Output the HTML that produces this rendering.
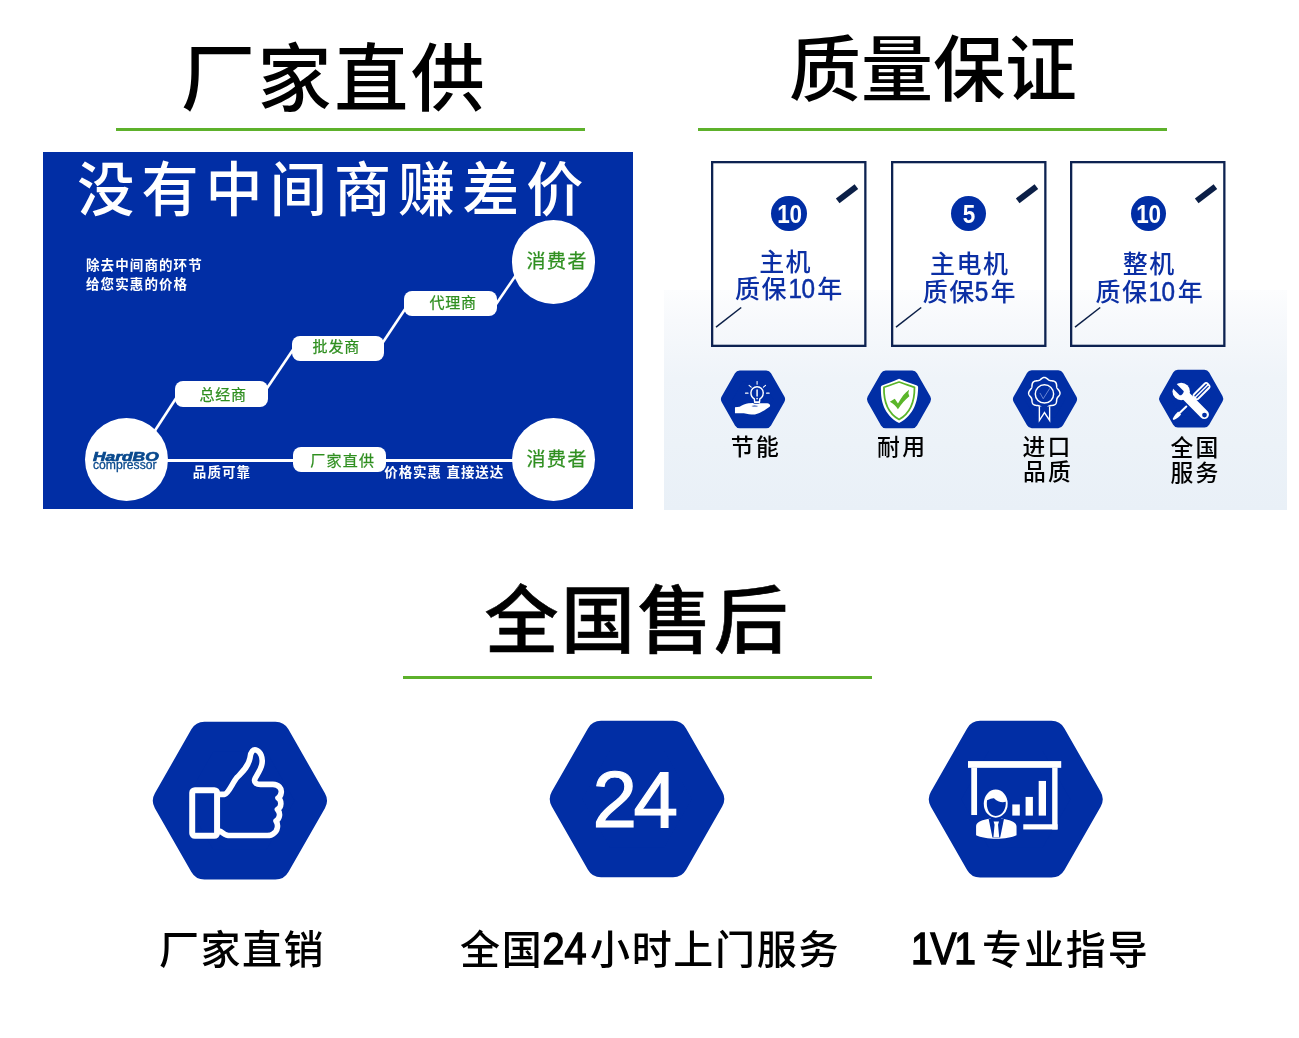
<!DOCTYPE html>
<html lang="zh-CN">
<head>
<meta charset="utf-8">
<title>厂家直供 · 质量保证 · 全国售后</title>
<style>
  html, body { margin: 0; padding: 0; background: #fff; }
  body { width: 1299px; height: 1038px; overflow: hidden;
         font-family: "Liberation Sans", "Noto Sans CJK SC", sans-serif; color: #000; }
  #page { position: relative; width: 1299px; height: 1038px; background: #fff; overflow: hidden; }
  .abs { position: absolute; white-space: nowrap; margin: 0; padding: 0; }
  .ga { will-change: transform; }
  svg { position: absolute; left: 0; top: 0; overflow: visible; }
  h2.title { position: absolute; margin: 0; white-space: nowrap; font-weight: 500;
             font-family: "Liberation Sans", "Noto Sans CJK SC", sans-serif;
             line-height: 1; transform-origin: 0 0; }
  .rule { position: absolute; height: 3px; background: #5db12b; }

  /* ---- section 1 : blue diagram ---- */
  #direct { position: absolute; left: 43px; top: 152px; width: 590px; height: 357px; background: #012ea5; overflow: hidden; }
  #direct .big { font-family: "Liberation Sans", "Noto Sans CJK SC", sans-serif; font-weight: 500; color: #fff; line-height: 1; }
  #direct .note { font-family: "Liberation Sans", "Noto Sans CJK SC", sans-serif; font-weight: 700; color: #fff; line-height: 1; }
  #direct .pill { position: absolute; background: #fff; border-radius: 8px; color: #2f8f20; text-align: center; -webkit-text-stroke: 0.25px #2f8f20;
                  font-family: "Liberation Sans", "Noto Sans CJK SC", sans-serif; font-weight: 400; white-space: nowrap; }
  #direct .dot { position: absolute; background: #fff; border-radius: 50%; color: #2f8f20; text-align: center; -webkit-text-stroke: 0.25px #2f8f20;
                 font-family: "Liberation Sans", "Noto Sans CJK SC", sans-serif; font-weight: 400; white-space: nowrap; }

  /* ---- section 2 : quality ---- */
  #panel { position: absolute; left: 664px; top: 290px; width: 623px; height: 219.6px;
           background: linear-gradient(to bottom, #fcfdfe 0%, #f7f9fc 14%, #eff4f9 40%, #e9f0f7 100%); }
  .card { position: absolute; top: 161px; width: 155.5px; height: 186px; }
  .card .num { position: absolute; left: 60.5px; top: 34.7px; width: 35.4px; height: 35.4px; border-radius: 50%;
               background: #012ea5; color: #fff; font-weight: 700; text-align: center;
               font-family: "Liberation Sans", sans-serif; font-size: 25px; line-height: 36.8px; }
  .card .num span { display: inline-block; transform: scaleX(0.9); letter-spacing: -0.5px; }
  .card .txt { position: absolute; left: 0; width: 155.4px; text-align: center; color: #0b2fa4;
               font-family: "Liberation Sans", "Noto Sans CJK SC", sans-serif; font-weight: 500; white-space: nowrap;
               font-size: 25px; line-height: 30px; letter-spacing: 1.4px; }
  .card .txt .d { font-weight: 400; font-size: 27px; line-height: 0; letter-spacing: -0.6px; display: inline-block; transform: scaleX(0.9); margin: 0 1.7px 0 -1.1px; -webkit-text-stroke: 0.5px #0b2fa4; }
  .feat { position: absolute; text-align: center; color: #000; white-space: nowrap;
          font-family: "Liberation Sans", "Noto Sans CJK SC", sans-serif; font-weight: 500; }

  /* ---- section 3 : service ---- */
  .svc { position: absolute; color: #000; white-space: nowrap; line-height: 48px; height: 48px;
         font-family: "Liberation Sans", "Noto Sans CJK SC", sans-serif; font-weight: 500; font-size: 40px; letter-spacing: 1.5px; }
  .svc .lat { font-family: "Liberation Sans", sans-serif; font-weight: 400; font-size: 44px; display: inline-block; -webkit-text-stroke: 1.5px #000;
              transform-origin: 50% 50%; letter-spacing: 0; line-height: 1; vertical-align: baseline; }
</style>
</head>
<body>
<div id="page" class="ga">

  <!-- ================= section 1 ================= -->
  <h2 class="title" id="t1" style="left:181px; top:43px; font-size:74px; letter-spacing:2.6px;">厂家直供</h2>
  <div class="rule" style="left:116px; top:128px; width:469px;"></div>

  <div id="direct">

    <svg width="590" height="357" viewBox="43 152 590 357">
      <g stroke="#fff" stroke-width="2.6" fill="none" stroke-linecap="butt">
        <line x1="150.8" y1="437" x2="178.8" y2="394"/>
        <line x1="265.8" y1="390" x2="294.8" y2="347"/>
        <line x1="381.8" y1="344" x2="407.8" y2="305"/>
        <line x1="494.8" y1="306" x2="520.8" y2="268"/>
      </g>
      <line x1="160" y1="460.4" x2="520" y2="460.4" stroke="#fff" stroke-width="3"/>
    </svg>
    <div class="abs big" id="bigtitle" style="left:34.3px; top:8.5px; font-size:57px; letter-spacing:7.15px; transform:scaleY(1.035); transform-origin:0 0;">没有中间商赚差价</div>
    <div class="abs note" id="note1" style="left:43px; top:106.5px; font-size:13.5px; letter-spacing:1.1px;">除去中间商的环节</div>
    <div class="abs note" id="note2" style="left:43px; top:125.7px; font-size:13.5px; letter-spacing:1.1px;">给您实惠的价格</div>

    <div class="pill" id="p1" style="left:132.4px; top:229.4px; width:92.8px; height:25.2px; line-height:28.6px; font-size:15px; letter-spacing:0.8px; text-indent:2.6px;">总经商</div>
    <div class="pill" id="p2" style="left:248.6px; top:184px; width:92.8px; height:25.2px; line-height:22.6px; font-size:15px; letter-spacing:0.8px; text-indent:-3.4px;">批发商</div>
    <div class="pill" id="p3" style="left:361px; top:139px; width:93px; height:25.4px; line-height:24px; font-size:15px; letter-spacing:0.8px; text-indent:5.2px;">代理商</div>
    <div class="pill" id="p4" style="left:250px; top:294.7px; width:93.2px; height:25.2px; line-height:27.6px; font-size:15px; letter-spacing:1.2px; text-indent:6.2px;">厂家直供</div>

    <div class="dot" id="c1" style="left:469px; top:68.3px; width:83.4px; height:83.4px; line-height:83px; font-size:19px; letter-spacing:1.4px; text-indent:7px;">消费者</div>
    <div class="dot" id="c2" style="left:469px; top:265.7px; width:83.4px; height:83.4px; line-height:84px; font-size:19px; letter-spacing:1.4px; text-indent:7px;">消费者</div>
    <div class="dot" id="logo" style="left:41.6px; top:265.7px; width:83.4px; height:83.4px;">
      <span class="abs" id="lg1" style="left:8.6px; top:33px; font-family:'Liberation Sans',sans-serif; font-weight:700; font-style:italic; font-size:12.6px; line-height:1; color:#0a4a8e; -webkit-text-stroke:0.65px #0a4a8e; transform:scaleX(1.38); transform-origin:0 0; letter-spacing:0;">HardBO</span>
      <span class="abs" id="lg2" style="left:8.3px; top:41px; font-family:'Liberation Sans',sans-serif; font-weight:400; font-size:12px; line-height:1; color:#0a4a8e; -webkit-text-stroke:0.3px #0a4a8e; transform:scaleX(1.015); transform-origin:0 0;">compressor</span>
    </div>

    <div class="abs note" id="lab1" style="left:149.8px; top:314.3px; font-size:13.5px; letter-spacing:1.1px;">品质可靠</div>
    <div class="abs note" id="lab2" style="left:341.3px; top:314.3px; font-size:13.5px; letter-spacing:0.9px;">价格实惠 直接送达</div>

  </div>

  <!-- ================= section 2 ================= -->
  <h2 class="title" id="t2" style="left:789px; top:34px; font-size:72px;">质量保证</h2>
  <div class="rule" style="left:698px; top:128px; width:469px;"></div>

  <div id="panel"></div>
  <div class="card" style="left:710.9px;">
    <svg width="156" height="186" viewBox="0 0 156 186">
      <rect x="1.15" y="1.15" width="153.2" height="183.7" fill="none" stroke="#0d2251" stroke-width="2.3"/>
      <line x1="126.7" y1="39.8" x2="145.4" y2="25.6" stroke="#0b1f47" stroke-width="6"/>
      <line x1="5" y1="166.2" x2="30.2" y2="146.5" stroke="#0b1f47" stroke-width="1.5"/>
    </svg>
    <div class="num"><span>10</span></div>
    <div class="txt" style="top:85.9px; margin-left:-3.0px;">主机</div>
    <div class="txt" style="top:112.8px; margin-left:0.8px;">质保<span class="d">10</span>年</div>
  </div>
  <div class="card" style="left:890.6px;">
    <svg width="156" height="186" viewBox="0 0 156 186">
      <rect x="1.15" y="1.15" width="153.2" height="183.7" fill="none" stroke="#0d2251" stroke-width="2.3"/>
      <line x1="126.7" y1="39.8" x2="145.4" y2="25.6" stroke="#0b1f47" stroke-width="6"/>
      <line x1="5" y1="166.2" x2="30.2" y2="146.5" stroke="#0b1f47" stroke-width="1.5"/>
    </svg>
    <div class="num"><span>5</span></div>
    <div class="txt" style="top:88.2px; margin-left:1.4px;">主电机</div>
    <div class="txt" style="top:115.5px; margin-left:1.6px;">质保<span class="d">5</span>年</div>
  </div>
  <div class="card" style="left:1070.4px;">
    <svg width="156" height="186" viewBox="0 0 156 186">
      <rect x="1.15" y="1.15" width="153.2" height="183.7" fill="none" stroke="#0d2251" stroke-width="2.3"/>
      <line x1="126.7" y1="39.8" x2="145.4" y2="25.6" stroke="#0b1f47" stroke-width="6"/>
      <line x1="5" y1="166.2" x2="30.2" y2="146.5" stroke="#0b1f47" stroke-width="1.5"/>
    </svg>
    <div class="num"><span>10</span></div>
    <div class="txt" style="top:88.4px; margin-left:1.2px;">整机</div>
    <div class="txt" style="top:115.5px; margin-left:1.8px;">质保<span class="d">10</span>年</div>
  </div>
  <svg style="left:713px; top:360px;" width="80" height="80" viewBox="0 0 1038 1038">
      <path d="M174.0,510.0 L347.0,206.0 L691.0,206.0 L864.0,510.0 L691.0,814.0 L347.0,814.0 Z" fill="#012ea5" stroke="#012ea5" stroke-width="142" stroke-linejoin="round"/>
      <path d="M285,614 L345,606 C385,580 420,566 460,561 L520,558 C535,574 585,577 602,560 L705,560 C730,560 748,580 738,602 C690,640 610,690 545,706 C500,708 450,700 400,690 L285,690 Z" fill="#fff"/>
      <path d="M498,596 C530,584 560,589 588,596 C560,607 525,607 498,596 Z" fill="#012ea5"/>
      <path d="M541,548 L536,505 C505,485 492,455 492,425 C492,380 528,347 572,347 C616,347 652,380 652,425 C652,455 639,485 608,505 L603,548 Z" fill="#012ea5" stroke="#fff" stroke-width="19" stroke-linejoin="round"/>
      <rect x="540" y="538" width="64" height="24" rx="5" fill="#fff"/>
      <line x1="572" y1="388" x2="572" y2="466" stroke="#fff" stroke-width="19" stroke-linecap="round"/>
      <circle cx="572" cy="500" r="11" fill="#fff"/>
      <g stroke="#fff" stroke-width="14" stroke-linecap="round">
        <line x1="572" y1="280" x2="572" y2="314"/>
        <line x1="468" y1="328" x2="496" y2="353"/>
        <line x1="682" y1="328" x2="654" y2="353"/>
        <line x1="421" y1="430" x2="455" y2="430"/>
        <line x1="695" y1="430" x2="729" y2="430"/>
      </g>
  </svg>
  <svg style="left:859.3px; top:360px;" width="80" height="80" viewBox="0 0 1038 1038">
      <path d="M174.0,510.0 L347.0,206.0 L691.0,206.0 L864.0,510.0 L691.0,814.0 L347.0,814.0 Z" fill="#012ea5" stroke="#012ea5" stroke-width="142" stroke-linejoin="round"/>
      <path d="M520,243 C600,278 685,305 752,330 C765,336 768,348 767,365 C762,520 725,705 520,818 C315,705 282,520 284,365 C283,348 286,336 298,330 C365,305 440,278 520,243 Z" fill="#fff"/>
      <path d="M520,286 C590,312 660,334 720,354 C722,500 688,678 520,773 C352,678 320,500 324,354 C384,334 450,312 520,286 Z" fill="none" stroke="#5ab52a" stroke-width="23" stroke-linejoin="round"/>
      <path d="M400,541 L464,504 L506,566 C548,482 598,422 650,385 L640,432 L653,470 C600,512 550,572 505,638 C480,600 445,565 400,541 Z" fill="#5ab52a"/>
  </svg>
  <svg style="left:1005px; top:360px;" width="80" height="80" viewBox="0 0 1038 1038">
      <path d="M174.0,509.0 L347.0,205.0 L691.0,205.0 L864.0,509.0 L691.0,813.0 L347.0,813.0 Z" fill="#012ea5" stroke="#012ea5" stroke-width="142" stroke-linejoin="round"/>
      <path d="M510.0,227.0 L515.3,227.3 L520.6,228.3 L525.7,229.9 L530.8,232.1 L535.7,234.7 L540.5,237.7 L545.0,241.0 L549.5,244.4 L553.7,247.9 L557.9,251.3 L562.0,254.6 L566.0,257.6 L570.1,260.3 L574.2,262.6 L578.5,264.6 L582.9,266.2 L587.5,267.5 L592.3,268.5 L597.3,269.2 L602.5,269.8 L607.9,270.3 L613.3,270.9 L618.9,271.6 L624.4,272.5 L629.9,273.7 L635.3,275.3 L640.3,277.4 L645.1,279.9 L649.6,282.9 L653.5,286.5 L657.1,290.4 L660.1,294.9 L662.6,299.7 L664.7,304.7 L666.3,310.1 L667.5,315.6 L668.4,321.1 L669.1,326.7 L669.7,332.1 L670.2,337.5 L670.8,342.7 L671.5,347.7 L672.5,352.5 L673.8,357.1 L675.4,361.5 L677.4,365.8 L679.7,369.9 L682.4,374.0 L685.4,378.0 L688.7,382.1 L692.1,386.3 L695.6,390.5 L699.0,395.0 L702.3,399.5 L705.3,404.3 L707.9,409.2 L710.1,414.3 L711.7,419.4 L712.7,424.7 L713.0,430.0 L712.7,435.3 L711.7,440.6 L710.1,445.7 L707.9,450.8 L705.3,455.7 L702.3,460.5 L699.0,465.0 L695.6,469.5 L692.1,473.7 L688.7,477.9 L685.4,482.0 L682.4,486.0 L679.7,490.1 L677.4,494.2 L675.4,498.5 L673.8,502.9 L672.5,507.5 L671.5,512.3 L670.8,517.3 L670.2,522.5 L669.7,527.9 L669.1,533.3 L668.4,538.9 L667.5,544.4 L666.3,549.9 L664.7,555.3 L662.6,560.3 L660.1,565.1 L657.1,569.6 L653.5,573.5 L649.6,577.1 L645.1,580.1 L640.3,582.6 L635.3,584.7 L629.9,586.3 L624.4,587.5 L618.9,588.4 L613.3,589.1 L607.9,589.7 L602.5,590.2 L597.3,590.8 L592.3,591.5 L587.5,592.5 L582.9,593.8 L578.5,595.4 L574.2,597.4 L570.1,599.7 L566.0,602.4 L562.0,605.4 L557.9,608.7 L553.7,612.1 L549.5,615.6 L545.0,619.0 L540.5,622.3 L535.7,625.3 L530.8,627.9 L525.7,630.1 L520.6,631.7 L515.3,632.7 L510.0,633.0 L504.7,632.7 L499.4,631.7 L494.3,630.1 L489.2,627.9 L484.3,625.3 L479.5,622.3 L475.0,619.0 L470.5,615.6 L466.3,612.1 L462.1,608.7 L458.0,605.4 L454.0,602.4 L449.9,599.7 L445.8,597.4 L441.5,595.4 L437.1,593.8 L432.5,592.5 L427.7,591.5 L422.7,590.8 L417.5,590.2 L412.1,589.7 L406.7,589.1 L401.1,588.4 L395.6,587.5 L390.1,586.3 L384.7,584.7 L379.7,582.6 L374.9,580.1 L370.4,577.1 L366.5,573.5 L362.9,569.6 L359.9,565.1 L357.4,560.3 L355.3,555.3 L353.7,549.9 L352.5,544.4 L351.6,538.9 L350.9,533.3 L350.3,527.9 L349.8,522.5 L349.2,517.3 L348.5,512.3 L347.5,507.5 L346.2,502.9 L344.6,498.5 L342.6,494.2 L340.3,490.1 L337.6,486.0 L334.6,482.0 L331.3,477.9 L327.9,473.7 L324.4,469.5 L321.0,465.0 L317.7,460.5 L314.7,455.7 L312.1,450.8 L309.9,445.7 L308.3,440.6 L307.3,435.3 L307.0,430.0 L307.3,424.7 L308.3,419.4 L309.9,414.3 L312.1,409.2 L314.7,404.3 L317.7,399.5 L321.0,395.0 L324.4,390.5 L327.9,386.3 L331.3,382.1 L334.6,378.0 L337.6,374.0 L340.3,369.9 L342.6,365.8 L344.6,361.5 L346.2,357.1 L347.5,352.5 L348.5,347.7 L349.2,342.7 L349.8,337.5 L350.3,332.1 L350.9,326.7 L351.6,321.1 L352.5,315.6 L353.7,310.1 L355.3,304.7 L357.4,299.7 L359.9,294.9 L362.9,290.4 L366.5,286.5 L370.4,282.9 L374.9,279.9 L379.7,277.4 L384.7,275.3 L390.1,273.7 L395.6,272.5 L401.1,271.6 L406.7,270.9 L412.1,270.3 L417.5,269.8 L422.7,269.2 L427.7,268.5 L432.5,267.5 L437.1,266.2 L441.5,264.6 L445.8,262.6 L449.9,260.3 L454.0,257.6 L458.0,254.6 L462.1,251.3 L466.3,247.9 L470.5,244.4 L475.0,241.0 L479.5,237.7 L484.3,234.7 L489.2,232.1 L494.3,229.9 L499.4,228.3 L504.7,227.3 Z" fill="none" stroke="#fff" stroke-width="20" stroke-linejoin="round"/>
      <circle cx="512" cy="440" r="119" fill="none" stroke="#fff" stroke-width="19"/>
      <path d="M456,432 L496,502 L578,372" fill="none" stroke="#a9b9ee" stroke-width="11" stroke-linecap="round" stroke-linejoin="round" opacity="0.7"/>
      <path d="M446,604 L446,785 L512,682 L579,785 L579,604" fill="#012ea5" stroke="#fff" stroke-width="18" stroke-linejoin="miter"/>
  </svg>
  <svg style="left:1151px; top:360px;" width="80" height="80" viewBox="0 0 1038 1038">
      <path d="M176.0,502.0 L349.0,198.0 L693.0,198.0 L866.0,502.0 L693.0,806.0 L349.0,806.0 Z" fill="#012ea5" stroke="#012ea5" stroke-width="142" stroke-linejoin="round"/>
      <g transform="rotate(-45 655 405)">
        <rect x="520" y="353" width="272" height="104" rx="44" fill="#fff"/>
        <rect x="545" y="379" width="224" height="16" rx="8" fill="#012ea5"/>
        <rect x="545" y="415" width="224" height="16" rx="8" fill="#012ea5"/>
      </g>
      <line x1="458" y1="604" x2="360" y2="698" stroke="#fff" stroke-width="27" stroke-linecap="round"/>
      <path d="M352,668 L390,706 C372,730 335,762 302,776 C287,780 280,770 284,758 C300,722 330,690 352,668 Z" fill="#fff"/>
      <line x1="400" y1="412" x2="692" y2="706" stroke="#fff" stroke-width="120" stroke-linecap="round"/>
      <circle cx="392" cy="408" r="113" fill="#fff"/>
      <path d="M426,404 L300,278 L246,332 L372,458 C390,462 420,440 426,404 Z" fill="#012ea5"/>
      <circle cx="694" cy="714" r="31" fill="#012ea5"/>
  </svg>
  <div class="feat" style="left:715.9px; top:432.4px; width:80px; font-size:22.8px; line-height:30px; letter-spacing:2.3px;">节能</div>
  <div class="feat" style="left:862.2px; top:432.4px; width:80px; font-size:22.8px; line-height:30px; letter-spacing:2.3px;">耐用</div>
  <div class="feat" style="left:1007.5px; top:431.5px; width:80px; font-size:22.8px; line-height:30px; letter-spacing:2.3px;">进口</div>
  <div class="feat" style="left:1008.0px; top:457.0px; width:80px; font-size:22.8px; line-height:30px; letter-spacing:2.3px;">品质</div>
  <div class="feat" style="left:1155.6px; top:432.7px; width:80px; font-size:22.8px; line-height:30px; letter-spacing:2.3px;">全国</div>
  <div class="feat" style="left:1155.6px; top:457.8px; width:80px; font-size:22.8px; line-height:30px; letter-spacing:2.3px;">服务</div>

  <!-- ================= section 3 ================= -->
  <h2 class="title" id="t3" style="left:484.5px; top:585px; font-size:74px; letter-spacing:2.5px; -webkit-text-stroke:0.6px #000;">全国售后</h2>
  <div class="rule" style="left:403px; top:676px; width:469px;"></div>

  <svg style="left:140px; top:700px;" width="200" height="200" viewBox="0 0 1038 1038">
      <path d="M145.0,522.5 L334.4,191.0 L702.6,191.0 L892.0,522.5 L702.6,854.0 L334.4,854.0 Z" fill="#012ea5" stroke="#012ea5" stroke-width="156" stroke-linejoin="round"/>
      <rect x="271" y="468" width="129" height="237" rx="14" fill="none" stroke="#fff" stroke-width="31"/>
      <path d="M415,490 L438,490 C462,482 478,432 503,402 C528,376 560,352 571,300 C574,266 590,256 601,259 C626,266 640,300 632,336 C625,370 600,394 595,414 C592,430 605,438 625,438 L690,438 C720,438 736,460 733,480 C731,495 722,505 716,508 C737,522 736,556 713,568 C731,586 726,616 706,628 C719,646 716,680 692,694 C686,700 670,703 660,703 L458,703 C442,701 430,692 418,682" fill="none" stroke="#fff" stroke-width="29" stroke-linejoin="round" stroke-linecap="round"/>
  </svg>
  <svg style="left:520px; top:700px;" width="240" height="200" viewBox="0 0 1246 1038">
      <path d="M233.0,514.0 L420.4,186.0 L794.6,186.0 L982.0,514.0 L794.6,842.0 L420.4,842.0 Z" fill="#012ea5" stroke="#012ea5" stroke-width="156" stroke-linejoin="round"/>
  </svg>
  <div class="abs" id="n24" style="left:546.4px; top:770.6px; width:174px; height:58px; text-align:center; color:#fff; font-family:'Liberation Sans',sans-serif; font-weight:400; font-size:80px; line-height:58px; -webkit-text-stroke:1.2px #fff; letter-spacing:-3.6px;">24</div>
  <svg style="left:900px; top:700px;" width="240" height="200" viewBox="0 0 1246 1038">
      <path d="M228.0,515.0 L416.0,186.0 L786.0,186.0 L974.0,515.0 L786.0,844.0 L416.0,844.0 Z" fill="#012ea5" stroke="#012ea5" stroke-width="156" stroke-linejoin="round"/>
      <rect x="353" y="317" width="484" height="35" fill="#fff"/>
      <rect x="370" y="350" width="30" height="247" fill="#fff"/>
      <rect x="790" y="350" width="28" height="322" fill="#fff"/>
      <rect x="640" y="645" width="178" height="27" fill="#fff"/>
      <rect x="583" y="542" width="39" height="58" fill="#fff"/>
      <rect x="652" y="503" width="38" height="97" fill="#fff"/>
      <rect x="720" y="420" width="38" height="180" fill="#fff"/>
      <ellipse cx="497" cy="538" rx="70" ry="80" fill="#012ea5"/>
      <ellipse cx="497" cy="538" rx="62" ry="73" fill="#fff"/>
      <path d="M452,520 C470,512 480,508 488,510 C505,528 530,534 549,528 C552,560 535,600 497,602 C462,600 446,560 452,520 Z" fill="#012ea5"/>
      <path d="M395,702 L395,656 C395,636 420,624 450,619 L468,615 C485,628 510,628 528,615 L546,619 C576,624 605,636 605,656 L605,702 C560,726 440,726 395,702 Z" fill="#fff"/>
      <path d="M460,616 L540,616 L520,714 L480,714 Z" fill="#012ea5"/>
      <path d="M486,630 L514,630 L509,648 L515,712 L485,712 L491,648 Z" fill="#fff"/>
  </svg>

  <div class="svc" id="s1" style="left:159px; top:926px;">厂家直销</div>
  <div class="svc" id="s2" style="left:460px; top:926px; letter-spacing:1.7px;">全国<span class="lat" style="transform:scaleX(0.9); margin:0 1.2px 0 -3.6px;">24</span>小时上门服务</div>
  <div class="svc" id="s3" style="left:907.2px; top:926px; letter-spacing:1.9px;"><span class="lat" style="transform:scaleX(0.885); letter-spacing:-2.5px; margin:0 4px 0 0;">1V1</span>专业指导</div>


</div>
</body>
</html>
